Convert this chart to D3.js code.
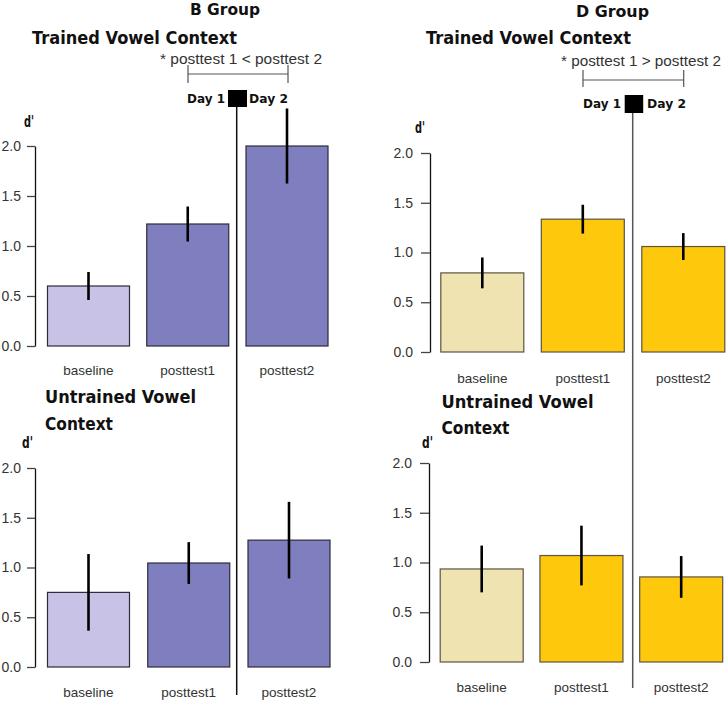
<!DOCTYPE html>
<html><head><meta charset="utf-8">
<script src="https://cdn.jsdelivr.net/npm/d3@7"></script>
<style>
body{margin:0;background:#fff;}
svg{display:block;}
</style></head>
<body>
<script>
// ---- data ----
const categories = ["baseline", "posttest1", "posttest2"];
const tickValues = [0, 0.5, 1.0, 1.5, 2.0];
const bTrained = [0.60, 1.22, 2.00];
const bTrainedErr = [0.14, 0.175, 0.375];
const bUntrained = [0.75, 1.045, 1.275];
const bUntrainedErr = [0.385, 0.21, 0.385];
const dTrained = [0.795, 1.335, 1.06];
const dTrainedErr = [0.155, 0.145, 0.135];
const dUntrained = [0.935, 1.07, 0.855];
const dUntrainedErr = [0.235, 0.30, 0.21];
const groupTitles = ["B Group", "D Group"];
const comparisonLabels = ["* posttest 1 < posttest 2", "* posttest 1 > posttest 2"];
const dayLabels = ["Day 1", "Day 2"];

const W = 726, H = 701;
const svg = d3.select("body").append("svg").attr("width", W).attr("height", H);

const panels = [
  {vals: bTrained, err: bTrainedErr, ax: 35, y0: 346, y2: 146, x0: 88.5, x2: 287, bw: 82,
   colors: ["#c8c2e6", "#7f7fbf", "#7f7fbf"], stroke: "#2b2b3a", labY: 375, tickPad: 6},
  {vals: bUntrained, err: bUntrainedErr, ax: 35, y0: 667, y2: 468, x0: 88.5, x2: 289, bw: 82,
   colors: ["#c8c2e6", "#7f7fbf", "#7f7fbf"], stroke: "#2b2b3a", labY: 697, tickPad: 6},
  {vals: dTrained, err: dTrainedErr, ax: 430, y0: 352, y2: 153, x0: 482.3, x2: 683.3, bw: 83,
   colors: ["#efe3b1", "#fec80c", "#fec80c"], stroke: "#5b5443", labY: 383, tickPad: 8},
  {vals: dUntrained, err: dUntrainedErr, ax: 429, y0: 662, y2: 463, x0: 481.7, x2: 681.2, bw: 83,
   colors: ["#efe3b1", "#fec80c", "#fec80c"], stroke: "#5b5443", labY: 692, tickPad: 8}
];

panels.forEach(p => {
  const y = d3.scaleLinear().domain([0, 2]).range([p.y0, p.y2]);
  const x = d3.scalePoint().domain(categories).range([p.x0, p.x2]);
  const g = svg.append("g");
  const axis = d3.axisLeft(y).tickValues(tickValues).tickFormat(d3.format(".1f"))
    .tickSize(p.ax > 300 ? 9 : 8).tickSizeOuter(0).tickPadding(p.tickPad);
  const ag = g.append("g").attr("transform", `translate(${p.ax},0)`).call(axis);
  ag.select(".domain").attr("stroke", "#111").attr("stroke-width", 1.3);
  ag.selectAll(".tick line").attr("stroke", "#444").attr("stroke-width", 1.3);
  ag.selectAll(".tick text").attr("fill", "#333").style("font-family", "'Liberation Sans', Arial, sans-serif").style("font-size", "14px");

  const data = categories.map((c, i) => ({c, v: p.vals[i], e: p.err[i], col: p.colors[i]}));
  g.selectAll("rect.bar").data(data).join("rect").attr("class", "bar")
    .attr("x", d => x(d.c) - p.bw / 2).attr("width", p.bw)
    .attr("y", d => y(d.v)).attr("height", d => y(0) - y(d.v))
    .attr("fill", d => d.col).attr("stroke", p.stroke).attr("stroke-width", 1.2);
  g.selectAll("line.err").data(data).join("line").attr("class", "err")
    .attr("x1", d => x(d.c)).attr("x2", d => x(d.c))
    .attr("y1", d => y(d.v + d.e)).attr("y2", d => y(d.v - d.e))
    .attr("stroke", "#000").attr("stroke-width", 2.6);
  g.selectAll("text.xl").data(data).join("text").attr("class", "xl")
    .attr("x", d => x(d.c)).attr("y", p.labY).attr("text-anchor", "middle")
    .attr("fill", "#333").style("font-family", "'Liberation Sans', Arial, sans-serif").style("font-size", "13.5px")
    .text(d => d.c);
});

const boldFont = "'DejaVu Sans', Verdana, sans-serif";
function txt(x, yb, s, size, weight, len, fill, family) {
  const t = svg.append("text").attr("x", x).attr("y", yb).text(s)
    .style("font-family", family || (weight === "bold" ? boldFont : "'DejaVu Sans', sans-serif"))
    .style("font-size", size + "px").style("font-weight", weight)
    .attr("fill", fill || "#111");
  if (len) t.attr("textLength", len).attr("lengthAdjust", "spacingAndGlyphs");
  return t;
}

// group titles
txt(190, 15, groupTitles[0], 16, "bold", 70);
txt(576, 17, groupTitles[1], 16, "bold", 73);
// trained titles
txt(32, 44, "Trained Vowel Context", 17, "bold", 205);
txt(426, 44, "Trained Vowel Context", 17, "bold", 205);
// untrained titles
txt(45, 403, "Untrained Vowel", 17, "bold", 151);
txt(45, 430, "Context", 17, "bold", 68);
txt(441.5, 408, "Untrained Vowel", 17, "bold", 152);
txt(441.5, 434, "Context", 17, "bold", 68);
// d' labels
txt(24, 127, "d'", 15, "bold", 10);
txt(415, 133, "d'", 15, "bold", 10);
txt(22, 448, "d'", 15, "bold", 11);
txt(422, 448, "d'", 15, "bold", 11);

// comparison brackets
const brackets = [
  {label: comparisonLabels[0], tx: 160, ty: 64, tl: 162, lx1: 188, lx2: 288, ly: 74, t1: 65, t2: 83,
   sq: [228, 90, 19, 17], d1: [187, 103, 38], d2: [249, 103, 39], vx: 236.7, vy2: 695, vcol: "#111"},
  {label: comparisonLabels[1], tx: 561, ty: 66, tl: 160, lx1: 583, lx2: 683.7, ly: 80, t1: 70, t2: 87,
   sq: [624.7, 95, 18.5, 18], d1: [583, 108, 38], d2: [647, 108, 39], vx: 632.7, vy2: 688, vcol: "#555"}
];
brackets.forEach(b => {
  txt(b.tx, b.ty, b.label, 14, "normal", b.tl, "#333", "'Liberation Sans', Arial, sans-serif");
  svg.append("line").attr("x1", b.lx1).attr("x2", b.lx2).attr("y1", b.ly).attr("y2", b.ly).attr("stroke", "#555").attr("stroke-width", 1.2);
  [b.lx1, b.lx2].forEach(xx => svg.append("line").attr("x1", xx).attr("x2", xx).attr("y1", b.t1).attr("y2", b.t2).attr("stroke", "#555").attr("stroke-width", 1.2));
  svg.append("line").attr("x1", b.vx).attr("x2", b.vx).attr("y1", b.sq[1] + b.sq[3]).attr("y2", b.vy2).attr("stroke", b.vcol).attr("stroke-width", 1.5);
  svg.append("rect").attr("x", b.sq[0]).attr("y", b.sq[1]).attr("width", b.sq[2]).attr("height", b.sq[3]).attr("fill", "#000");
  txt(b.d1[0], b.d1[1], dayLabels[0], 13, "bold", b.d1[2]);
  txt(b.d2[0], b.d2[1], dayLabels[1], 13, "bold", b.d2[2]);
});
</script>
</body></html>
